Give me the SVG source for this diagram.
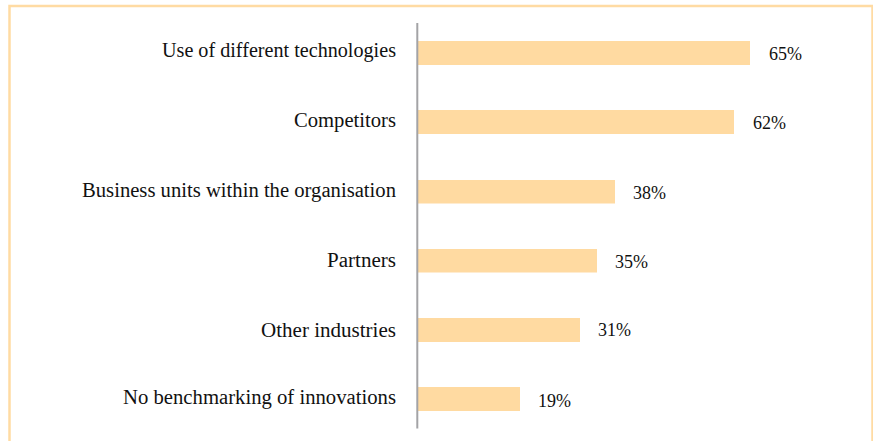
<svg xmlns="http://www.w3.org/2000/svg" width="873" height="441" viewBox="0 0 873 441">
<style>
.frame{fill:none;stroke:#FFDBA3;stroke-width:2.5}
.bar{fill:#FFDAA1}
.axis{stroke:#A3A3A6;stroke-width:2;fill:none}
.lbl{font-family:"Liberation Serif",serif;font-size:20.5px;fill:#111;text-anchor:end}
.val{font-family:"Liberation Serif",serif;font-size:18px;fill:#111}
</style>
<rect x="0" y="0" width="873" height="441" fill="#fff"/>
<rect class="frame" x="9.5" y="6" width="863" height="450"/>
<g id="bars">
<g id="row1"><rect class="bar" x="418" y="41" width="332" height="24"/><text class="lbl" x="396" y="57" textLength="234" lengthAdjust="spacingAndGlyphs">Use of different technologies</text><text class="val" x="769" y="60">65%</text></g>
<g id="row2"><rect class="bar" x="418" y="110" width="316" height="24"/><text class="lbl" x="396" y="127" textLength="102" lengthAdjust="spacingAndGlyphs">Competitors</text><text class="val" x="753" y="129">62%</text></g>
<g id="row3"><rect class="bar" x="418" y="180" width="197" height="23.5"/><text class="lbl" x="396" y="197" textLength="314" lengthAdjust="spacingAndGlyphs">Business units within the organisation</text><text class="val" x="633" y="198.5">38%</text></g>
<g id="row4"><rect class="bar" x="418" y="249" width="179" height="23.5"/><text class="lbl" x="396" y="267" textLength="69" lengthAdjust="spacingAndGlyphs">Partners</text><text class="val" x="615" y="268">35%</text></g>
<g id="row5"><rect class="bar" x="418" y="318" width="162" height="24"/><text class="lbl" x="396" y="337" textLength="135" lengthAdjust="spacingAndGlyphs">Other industries</text><text class="val" x="598" y="336">31%</text></g>
<g id="row6"><rect class="bar" x="418" y="387" width="102" height="24"/><text class="lbl" x="396" y="404" textLength="273" lengthAdjust="spacingAndGlyphs">No benchmarking of innovations</text><text class="val" x="538" y="406.5">19%</text></g>
</g>
<g id="connectors">
<line class="axis" x1="417.3" y1="23" x2="417.3" y2="428.5"/>
</g>
</svg>
